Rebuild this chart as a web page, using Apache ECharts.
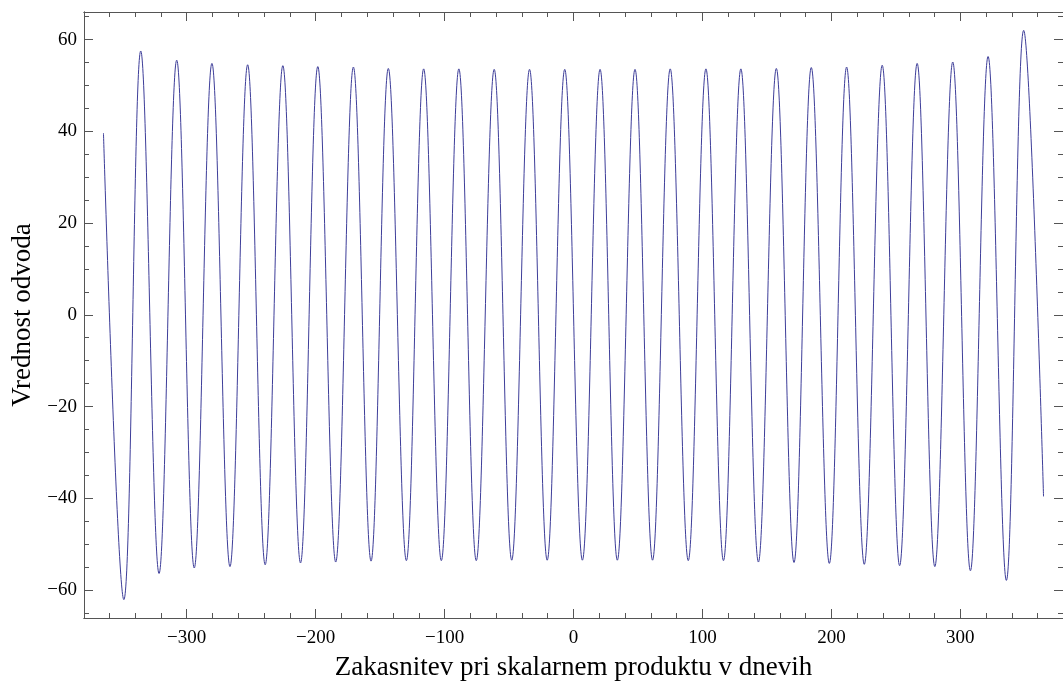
<!DOCTYPE html>
<html>
<head>
<meta charset="utf-8">
<script src="https://cdn.jsdelivr.net/npm/echarts@6/dist/echarts.min.js"></script>
<style>
  html, body { margin: 0; padding: 0; background: #fff; }
  #chart { width: 1063px; height: 689px; }
</style>
</head>
<body>
<div id="chart"></div>
<script>
// lag (days) of every peak / trough, plus both ends
const lags = [-364.5, -348.7, -335.6, -321.4, -307.7, -294.1, -280.4, -266.4, -252.7, -239.1,
  -225.4, -211.7, -198.3, -184.4, -170.7, -157.0, -143.6, -129.6, -116.2, -102.5,
  -88.9, -75.4, -61.5, -47.9, -34.1, -20.4, -6.8, 6.9, 20.6, 34.0,
  47.7, 61.3, 75.0, 89.0, 102.7, 116.3, 129.8, 143.4, 157.3, 171.0,
  184.4, 198.4, 211.8, 225.5, 239.4, 252.9, 266.5, 280.2, 294.1, 307.8,
  321.5, 335.7, 349.1, 364.5]
// derivative value at those lags
const values = [39.6, -62.1, 57.5, -56.4, 55.5, -55.2, 54.8, -54.9, 54.5, -54.5,
  54.3, -54.1, 54.1, -53.9, 54.0, -53.7, 53.7, -53.6, 53.6, -53.6,
  53.6, -53.6, 53.5, -53.5, 53.5, -53.5, 53.5, -53.5, 53.5, -53.5,
  53.5, -53.5, 53.6, -53.6, 53.6, -53.6, 53.6, -53.9, 53.7, -54.0,
  53.9, -54.2, 54.0, -54.4, 54.4, -54.7, 54.8, -54.9, 55.1, -55.8,
  56.3, -57.9, 62.0, -39.6]

const xMajorTicks = [-300, -200, -100, 0, 100, 200, 300]
const xMinorTicks = [-360, -340, -320, -280, -260, -240, -220, -180, -160, -140, -120,
  -80, -60, -40, -20, 20, 40, 60, 80, 120, 140, 160, 180, 220, 240, 260, 280, 320, 340, 360]
const yMajorTicks = [-60, -40, -20, 0, 20, 40, 60]
const yMinorTicks = [-65, -55, -50, -45, -35, -30, -25, -15, -10, -5,
  5, 10, 15, 25, 30, 35, 45, 50, 55, 65]

const frameColor = '#555555'
const lineColor = '#3d3d99'
const fontFamily = '"Liberation Serif", "DejaVu Serif", serif'

function fmt (v) {
  return v < 0 ? '\u2212' + Math.abs(v) : String(v)
}

function frameAxis (pos, min, max, ticks, len, labelMargin) {
  return {
    type: 'value',
    position: pos,
    min: min,
    max: max,
    axisLine: { show: true, onZero: false, lineStyle: { color: frameColor, width: 1 } },
    axisTick: { show: true, inside: true, length: len, customValues: ticks,
      lineStyle: { color: frameColor, width: 1 } },
    axisLabel: labelMargin
      ? { show: true, customValues: ticks, formatter: fmt, color: '#000',
          fontFamily: fontFamily, fontSize: 19, margin: labelMargin }
      : { show: false },
    splitLine: { show: false }
  }
}

const xMin = -379.6, xMax = 379.6
const yMin = -66.1, yMax = 66

const xBottom = frameAxis('bottom', xMin, xMax, xMajorTicks, 9, 11)
xBottom.name = 'Zakasnitev pri skalarnem produktu v dnevih'
xBottom.nameLocation = 'middle'
xBottom.nameGap = 36
xBottom.nameTextStyle = { color: '#000', fontFamily: fontFamily, fontSize: 27 }

const yLeft = frameAxis('left', yMin, yMax, yMajorTicks, 9, 7)
yLeft.name = 'Vrednost odvoda'
yLeft.nameLocation = 'middle'
yLeft.nameGap = 48
yLeft.nameTextStyle = { color: '#000', fontFamily: fontFamily, fontSize: 27 }

const chart = echarts.init(document.getElementById('chart'))
chart.setOption({
  animation: false,
  backgroundColor: '#fff',
  grid: { left: 84, top: 12, width: 980, height: 606, containLabel: false },
  xAxis: [
    xBottom,
    frameAxis('bottom', xMin, xMax, xMinorTicks, 5, 0),
    frameAxis('top', xMin, xMax, xMajorTicks, 9, 0),
    frameAxis('top', xMin, xMax, xMinorTicks, 5, 0)
  ],
  yAxis: [
    yLeft,
    frameAxis('left', yMin, yMax, yMinorTicks, 5, 0),
    frameAxis('right', yMin, yMax, yMajorTicks, 9, 0),
    frameAxis('right', yMin, yMax, yMinorTicks, 5, 0)
  ],
  series: [{
    type: 'line',
    xAxisIndex: 0,
    yAxisIndex: 0,
    data: lags.map((l, i) => [l, values[i]]),
    showSymbol: false,
    smooth: 0.37,
    lineStyle: { color: lineColor, width: 1 }
  }]
})
</script>
</body>
</html>
